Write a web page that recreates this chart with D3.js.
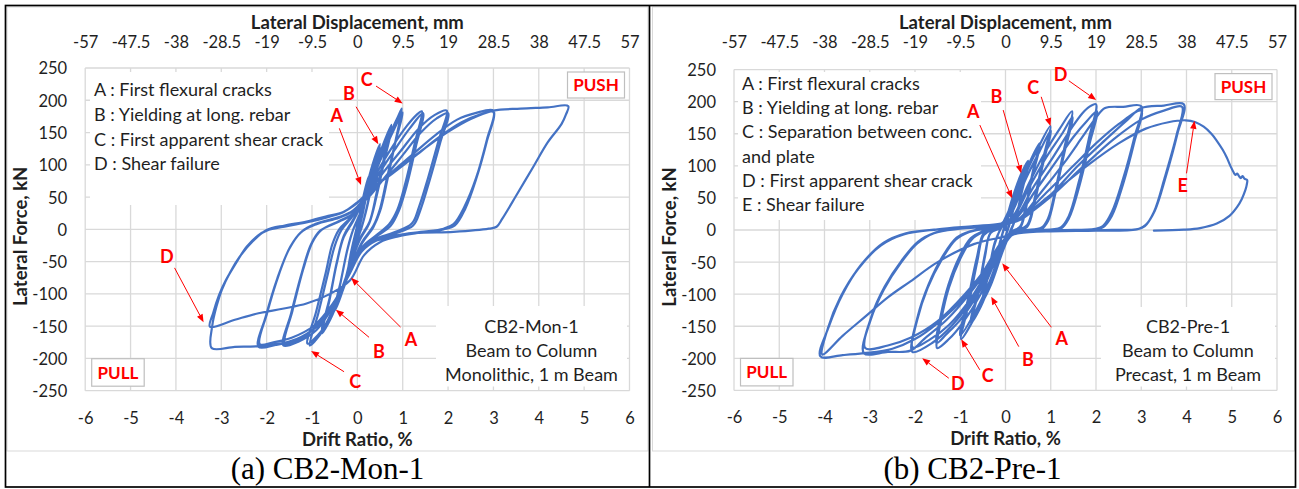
<!DOCTYPE html>
<html>
<head>
<meta charset="utf-8">
<title>CB2 beam-to-column hysteresis</title>
<script src="https://cdn.jsdelivr.net/npm/d3@7"></script>
<style>
  html, body { margin: 0; padding: 0; background: #fff; }
  svg { display: block; }
</style>
</head>
<body>
<svg id="fig" width="1299" height="489"></svg>
<script>
// ---------- axis ticks ----------
const driftTicks = [-6, -5, -4, -3, -2, -1, 0, 1, 2, 3, 4, 5, 6];
const displacementTicks = [-57, -47.5, -38, -28.5, -19, -9.5, 0, 9.5, 19, 28.5, 38, 47.5, 57];
const forceTicks = [-250, -200, -150, -100, -50, 0, 50, 100, 150, 200, 250];

// ---------- recorded loops: [drift ratio %, lateral force kN] ----------
const monLoop = [
  [0, 0],
  [0.1, 40], [0.25, 82], [0.17, 45], [0.05, 6], [-0.08, -30], [-0.22, -72], [-0.14, -38], [-0.03, -3],
  [0.1, 38], [0.25, 79], [0.17, 42], [0.05, 4], [-0.08, -28], [-0.22, -69], [-0.14, -36], [-0.03, -2],
  [0.1, 35], [0.3, 92], [0.5, 132], [0.38, 92], [0.22, 38], [0.1, 4], [-0.1, -36], [-0.3, -90], [-0.5, -126], [-0.38, -86], [-0.22, -32], [-0.1, -2],
  [0.1, 32], [0.3, 87], [0.5, 127], [0.37, 86], [0.21, 33], [0.09, 2], [-0.1, -32], [-0.3, -86], [-0.5, -121], [-0.37, -82], [-0.21, -28], [-0.09, 0],
  [0.1, 28], [0.35, 88], [0.55, 128], [0.75, 162], [0.6, 115], [0.42, 55], [0.27, 12], [0.05, -15], [-0.15, -52], [-0.4, -106], [-0.6, -140], [-0.78, -161], [-0.62, -112], [-0.46, -55], [-0.3, -12], [-0.1, 12],
  [0.1, 40], [0.4, 94], [0.6, 131], [0.76, 157], [0.6, 108], [0.42, 50], [0.26, 9], [0.05, -17], [-0.18, -60], [-0.45, -111], [-0.78, -156], [-0.61, -106], [-0.45, -50], [-0.3, -10], [-0.1, 14],
  [0.15, 47], [0.45, 102], [0.7, 146], [0.88, 172], [0.98, 187], [0.85, 140], [0.66, 82], [0.5, 32], [0.35, 5], [0.1, -20], [-0.15, -62], [-0.45, -117], [-0.75, -156], [-0.92, -172], [-1.05, -180], [-0.86, -130], [-0.66, -72], [-0.5, -26], [-0.35, -1], [-0.1, 21],
  [0.2, 56], [0.5, 106], [0.75, 146], [1.0, 181], [0.84, 135], [0.66, 76], [0.5, 28], [0.35, 3], [0.1, -22], [-0.2, -71], [-0.5, -121], [-0.8, -158], [-1.1, -177], [-0.91, -128], [-0.7, -68], [-0.55, -23], [-0.4, 0], [-0.15, 18],
  [0.15, 44], [0.45, 90], [0.8, 131], [1.1, 161], [1.3, 177], [1.42, 183], [1.26, 132], [1.06, 72], [0.88, 30], [0.7, 8], [0.4, -10], [0.1, -28], [-0.2, -70], [-0.55, -121], [-0.9, -156], [-1.3, -174], [-1.63, -180], [-1.46, -130], [-1.22, -66], [-1.02, -23], [-0.82, -2], [-0.4, 12], [-0.1, 23],
  [0.2, 50], [0.5, 89], [0.85, 126], [1.15, 156], [1.45, 180], [1.29, 128], [1.09, 68], [0.91, 28], [0.73, 5], [0.4, -12], [0.1, -30], [-0.2, -72], [-0.55, -119], [-0.95, -154], [-1.3, -171], [-1.6, -178], [-1.43, -126], [-1.19, -61], [-0.99, -20], [-0.79, -1], [-0.4, 13], [-0.1, 24],
  [0.2, 51], [0.55, 86], [0.95, 121], [1.35, 156], [1.7, 177], [1.97, 184], [1.8, 140], [1.56, 80], [1.36, 35], [1.2, 9], [0.8, -5], [0.4, -15], [0.1, -31], [-0.2, -71], [-0.5, -116], [-0.9, -151], [-1.4, -172], [-1.8, -179], [-2.18, -182], [-2.02, -135], [-1.76, -75], [-1.5, -30], [-1.25, -5], [-0.9, 8], [-0.4, 18], [-0.1, 28],
  [0.25, 50], [0.6, 80], [1.0, 115], [1.4, 150], [1.75, 172], [2.0, 180], [1.83, 135], [1.59, 75], [1.39, 30], [1.23, 6], [0.8, -7], [0.4, -17], [0.1, -33], [-0.2, -73], [-0.55, -116], [-0.95, -149], [-1.45, -168], [-1.85, -175], [-2.15, -178], [-1.99, -130], [-1.73, -70], [-1.48, -27], [-1.22, -3], [-0.9, 9], [-0.4, 19], [-0.1, 29],
  [0.25, 55], [0.7, 85], [1.2, 115], [1.7, 145], [2.2, 170], [2.6, 180], [3.0, 184], [2.86, 140], [2.62, 80], [2.36, 35], [2.12, 8], [1.9, 1], [1.4, -4], [0.9, -9], [0.4, -18], [0.1, -34], [-0.2, -73], [-0.55, -119], [-1.0, -156], [-1.5, -174], [-2.2, -181], [-2.7, -182], [-3.21, -184], [-3.2, -150], [-3.1, -118], [-2.99, -94], [-2.8, -66], [-2.59, -42], [-2.3, -18], [-2.0, -1], [-1.6, 6], [-1.12, 12], [-0.7, 20], [-0.31, 27],
  [0.0, 41], [0.3, 62], [0.8, 88], [1.3, 115], [1.8, 143], [2.3, 166], [2.7, 178], [3.0, 182], [2.85, 135], [2.62, 78], [2.38, 32], [2.15, 6], [1.9, 0], [1.4, -5], [0.9, -11], [0.5, -20], [0.15, -40], [-0.16, -79], [-0.6, -100], [-1.12, -115], [-1.65, -123], [-2.18, -130], [-2.7, -140], [-3.25, -151], [-3.18, -130], [-3.05, -102], [-2.9, -79], [-2.7, -55], [-2.44, -27], [-2.2, -10], [-2.0, -2], [-1.55, 5], [-1.1, 11], [-0.65, 19], [-0.3, 27],
  [0.0, 42], [0.35, 65], [0.8, 90], [1.4, 121], [2.0, 151], [2.5, 171], [3.0, 184], [3.6, 187], [4.2, 189], [4.65, 191], [4.6, 178], [4.5, 163], [4.2, 135], [3.88, 97], [3.5, 52], [3.2, 17], [3.07, 4], [2.9, 1], [2.12, -4], [1.27, -6], [0.6, -14], [0.2, -22]
];

const preLoop = [
  [0, 0],
  [0.12, 35], [0.25, 62], [0.16, 30], [0.06, 3], [-0.08, -25], [-0.25, -60], [-0.15, -28], [-0.05, -2],
  [0.11, 32], [0.25, 58], [0.16, 28], [0.06, 2], [-0.08, -24], [-0.25, -56], [-0.15, -26], [-0.05, -1],
  [0.15, 49], [0.35, 88], [0.5, 108], [0.38, 68], [0.24, 22], [0.14, 2], [-0.07, -35], [-0.32, -85], [-0.5, -110], [-0.38, -70], [-0.25, -25], [-0.13, -1],
  [0.12, 38], [0.33, 80], [0.5, 102], [0.37, 62], [0.23, 18], [0.12, 1], [-0.06, -30], [-0.3, -80], [-0.5, -104], [-0.37, -64], [-0.24, -20], [-0.12, 0],
  [0.1, 25], [0.35, 75], [0.55, 108], [0.75, 135], [0.6, 90], [0.44, 35], [0.32, 5], [0.1, -4], [-0.1, -30], [-0.35, -85], [-0.55, -120], [-0.76, -145], [-0.6, -98], [-0.45, -40], [-0.33, -5], [-0.1, 4],
  [0.12, 28], [0.38, 78], [0.58, 110], [0.76, 131], [0.6, 86], [0.44, 30], [0.32, 3], [0.1, -5], [-0.1, -32], [-0.38, -88], [-0.58, -120], [-0.77, -141], [-0.6, -94], [-0.45, -36], [-0.33, -4], [-0.1, 5],
  [0.15, 32], [0.4, 80], [0.7, 125], [0.99, 162], [0.82, 108], [0.64, 48], [0.48, 8], [0.2, -3], [-0.05, -25], [-0.3, -75], [-0.6, -125], [-0.98, -170], [-0.8, -112], [-0.62, -48], [-0.48, -8], [-0.2, 4],
  [0.12, 25], [0.45, 80], [0.75, 122], [1.0, 155], [0.82, 100], [0.64, 42], [0.48, 5], [0.2, -4], [-0.05, -26], [-0.35, -80], [-0.65, -125], [-1.0, -164], [-0.82, -105], [-0.63, -42], [-0.48, -5], [-0.2, 5],
  [0.15, 20], [0.5, 70], [0.85, 118], [1.2, 158], [1.47, 185], [1.3, 128], [1.1, 62], [0.94, 18], [0.8, 4], [0.4, -1], [0.1, -8], [-0.2, -45], [-0.55, -100], [-0.95, -145], [-1.25, -170], [-1.51, -184], [-1.42, -140], [-1.25, -90], [-1.0, -45], [-0.75, -15], [-0.5, -3], [-0.2, 5],
  [0.15, 18], [0.52, 66], [0.9, 113], [1.25, 150], [1.48, 176], [1.3, 120], [1.1, 56], [0.94, 14], [0.8, 2], [0.4, -2], [0.1, -9], [-0.2, -42], [-0.58, -96], [-1.0, -140], [-1.3, -162], [-1.52, -176], [-1.43, -133], [-1.26, -85], [-1.02, -42], [-0.77, -13], [-0.5, -2], [-0.2, 5],
  [0.2, 18], [0.6, 65], [1.0, 108], [1.47, 160], [1.7, 182], [1.85, 192], [2.0, 196], [1.85, 145], [1.62, 75], [1.4, 22], [1.22, 4], [0.7, 0], [0.3, -2], [0.05, -12], [-0.25, -50], [-0.7, -105], [-1.2, -150], [-1.6, -175], [-2.06, -190], [-1.95, -140], [-1.72, -90], [-1.4, -45], [-1.1, -15], [-0.8, -3], [-0.3, 4],
  [0.2, 16], [0.65, 60], [1.1, 105], [1.5, 145], [1.8, 170], [2.02, 185], [1.86, 135], [1.63, 68], [1.4, 18], [1.22, 2], [0.7, -1], [0.3, -3], [0.05, -13], [-0.3, -52], [-0.75, -105], [-1.25, -148], [-1.7, -172], [-2.05, -183], [-1.94, -135], [-1.7, -85], [-1.38, -40], [-1.08, -12], [-0.78, -2], [-0.3, 5],
  [0.25, 15], [0.8, 60], [1.3, 105], [1.7, 145], [2.0, 175], [2.2, 190], [2.6, 192], [3.0, 193], [2.85, 145], [2.6, 80], [2.35, 28], [2.15, 6], [1.98, 2], [1.3, 0], [0.6, -1], [0.2, -5], [0.0, -15], [-0.3, -50], [-0.8, -100], [-1.3, -140], [-1.8, -170], [-2.1, -188], [-2.6, -190], [-3.13, -192], [-2.98, -140], [-2.69, -93], [-2.32, -52], [-1.95, -21], [-1.58, -5], [-1.0, 2], [-0.3, 6],
  [0.25, 15], [0.9, 58], [1.5, 100], [2.0, 135], [2.5, 165], [3.0, 186], [2.85, 138], [2.6, 72], [2.35, 22], [2.15, 4], [1.98, 1], [1.3, -1], [0.6, -2], [0.2, -6], [0.0, -15], [-0.35, -52], [-0.9, -100], [-1.5, -142], [-2.1, -168], [-2.6, -180], [-3.1, -184], [-2.96, -134], [-2.67, -88], [-2.3, -48], [-1.93, -18], [-1.55, -4], [-1.0, 3], [-0.3, 7],
  [0.3, 15], [1.0, 55], [1.6, 100], [2.2, 140], [2.7, 172], [3.0, 190], [3.5, 194], [3.94, 196], [3.8, 150], [3.55, 85], [3.3, 30], [3.1, 8], [2.95, 2], [2.2, 0], [1.4, -1], [0.6, -2], [0.1, -8], [-0.1, -20], [-0.45, -60], [-0.9, -105], [-1.5, -145], [-2.0, -170], [-2.5, -185], [-3.13, -192], [-3.6, -195], [-4.09, -197], [-3.9, -150], [-3.6, -100], [-3.2, -55], [-2.7, -20], [-2.2, -5], [-1.5, 1], [-0.7, 5], [-0.1, 9],
  [0.3, 16], [1.0, 52], [1.7, 98], [2.4, 142], [3.0, 172], [3.5, 186], [3.9, 192], [3.78, 148], [3.52, 82], [3.28, 28], [3.08, 6], [2.9, 1], [2.0, -1], [1.0, -2], [0.3, -5], [0.0, -10], [-0.7, -22], [-1.5, -50], [-2.1, -80], [-2.6, -105], [-3.1, -135], [-3.6, -165], [-4.05, -194], [-3.92, -152], [-3.65, -105], [-3.25, -60], [-2.75, -24], [-2.25, -7], [-1.5, 1], [-0.7, 6], [-0.1, 10],
  [0.3, 18], [1.0, 55], [1.8, 100], [2.5, 135], [3.1, 158], [3.6, 168], [3.98, 171], [4.2, 168], [4.38, 161], [4.55, 150], [4.67, 139], [4.8, 125], [4.89, 113], [4.97, 100], [5.04, 90], [5.08, 86], [5.12, 88], [5.16, 84], [5.2, 81], [5.24, 84], [5.28, 80], [5.34, 78], [5.33, 70], [5.3, 62], [5.22, 48], [5.12, 36], [4.95, 22], [4.67, 10], [4.3, 3], [3.94, 0.5], [3.28, -1]
];

// ---------- text content ----------
const monLegend = ["A : First flexural cracks", "B : Yielding at long. rebar", "C : First apparent shear crack", "D : Shear failure"];
const preLegend = ["A : First flexural cracks", "B : Yielding at long. rebar", "C : Separation between conc.", "and plate", "D : First apparent shear crack", "E : Shear failure"];
const monSpecimen = ["CB2-Mon-1", "Beam to Column", "Monolithic, 1 m Beam"];
const preSpecimen = ["CB2-Pre-1", "Beam to Column", "Precast, 1 m Beam"];

// event markers in data units (drift %, kN): letter centre, arrow tail, arrow tip
const monEvents = [
  { label: "A", at: [-0.454, 177], tail: [-0.397, 156.5], tip: [0.082, 68.6] },
  { label: "B", at: [-0.183, 210.7], tail: [-0.029, 190], tip: [0.463, 131.7] },
  { label: "C", at: [0.207, 232.4], tail: [0.412, 222], tip: [1.0, 195] },
  { label: "D", at: [-4.2, -41.8], tail: [-4.03, -59.7], tip: [-3.39, -143.9] },
  { label: "A", at: [1.184, -170.3], tail: [0.952, -151.4], tip: [-0.139, -75.1] },
  { label: "B", at: [0.474, -188.6], tail: [0.258, -167.3], tip: [-0.474, -124.4] },
  { label: "C", at: [-0.046, -236], tail: [-0.293, -220.6], tip: [-1.02, -188.6] }
];
const preEvents = [
  { label: "A", at: [-0.714, 184.3], tail: [-0.568, 163.6], tip: [0.148, 49.4] },
  { label: "B", at: [-0.199, 208.7], tail: [-0.051, 186.9], tip: [0.347, 88.3] },
  { label: "C", at: [0.612, 222.3], tail: [0.789, 207.6], tip: [0.994, 162] },
  { label: "D", at: [1.215, 243], tail: [1.399, 232.6], tip: [2.004, 202.5] },
  { label: "E", at: [3.918, 70.1], tail: [4.0, 88.3], tip: [4.177, 170.2] },
  { label: "A", at: [1.244, -168.7], tail: [1.014, -151.6], tip: [-0.073, -51.9] },
  { label: "B", at: [0.493, -202.5], tail: [0.294, -181.8], tip: [-0.316, -103.9] },
  { label: "C", at: [-0.393, -226.6], tail: [-0.568, -218], tip: [-0.979, -170.2] },
  { label: "D", at: [-1.052, -238.8], tail: [-1.253, -231], tip: [-1.841, -199.8] }
];

// ---------- styling ----------
const SANS = "Lato, 'Open Sans', sans-serif";
const SERIF = "'Liberation Serif', 'Times New Roman', serif";
const INK = "#1f1f1f";
const GRID = "#d9d9d9";
const LOOP = "#4472c4";
const RED = "#ff0000";

const svg = d3.select("#fig");
svg.append("rect").attr("width", 1299).attr("height", 489).attr("fill", "#fff");

function drawPanel(cfg) {
  const g = svg.append("g");

  // chart area
  g.append("rect")
    .attr("x", cfg.frame[0]).attr("y", cfg.frame[1])
    .attr("width", cfg.frame[2] - cfg.frame[0]).attr("height", cfg.frame[3] - cfg.frame[1])
    .attr("fill", "#fff").attr("stroke", GRID).attr("stroke-width", 1);

  const x = d3.scaleLinear().domain([-6, 6]).range([cfg.x0, cfg.x1]);
  const xTop = d3.scaleLinear().domain([-57, 57]).range([cfg.x0, cfg.x1]);
  const y = d3.scaleLinear().domain([-250, 250]).range([cfg.yBot, cfg.yTop]);

  // grid
  g.append("g").selectAll("line").data(driftTicks).join("line")
    .attr("x1", d => x(d)).attr("x2", d => x(d))
    .attr("y1", cfg.yTop).attr("y2", cfg.yBot)
    .attr("stroke", GRID).attr("stroke-width", 1.3);
  g.append("g").selectAll("line").data(forceTicks).join("line")
    .attr("x1", cfg.x0).attr("x2", cfg.x1)
    .attr("y1", d => y(d)).attr("y2", d => y(d))
    .attr("stroke", GRID).attr("stroke-width", 1.3);

  // tick labels
  const styleAxis = sel => {
    sel.select(".domain").remove();
    sel.selectAll(".tick line").remove();
    sel.selectAll("text").attr("font-family", SANS).attr("font-size", 16.5).attr("fill", INK);
  };
  g.append("g").attr("transform", `translate(0,${cfg.yBot + 33})`)
    .call(d3.axisBottom(x).tickValues(driftTicks).tickSize(0).tickFormat(d => String(d)))
    .call(styleAxis)
    .call(s => s.selectAll("text").attr("y", 0).attr("dy", 0));
  g.append("g").attr("transform", `translate(0,${cfg.titleTopY + 19})`)
    .call(d3.axisTop(xTop).tickValues(displacementTicks).tickSize(0).tickFormat(d => String(d)))
    .call(styleAxis)
    .call(s => s.selectAll("text").attr("y", 0).attr("dy", 0));
  g.append("g").attr("transform", `translate(${cfg.x0 - 18},0)`)
    .call(d3.axisLeft(y).tickValues(forceTicks).tickSize(0).tickFormat(d => String(d)))
    .call(styleAxis)
    .call(s => s.selectAll("text").attr("x", 0).attr("dy", "0.36em"));

  // axis titles
  const mid = (cfg.x0 + cfg.x1) / 2;
  const title = (t) => g.append("text").text(t)
    .attr("font-family", SANS).attr("font-weight", 700).attr("font-size", 18.5)
    .attr("fill", INK).attr("text-anchor", "middle");
  title("Lateral Displacement, mm").attr("x", mid).attr("y", cfg.titleTopY);
  title("Drift Ratio, %").attr("x", mid).attr("y", cfg.yBot + 55);
  title("Lateral Force, kN")
    .attr("transform", `translate(${cfg.x0 - 58},${(cfg.yTop + cfg.yBot) / 2 + 7}) rotate(-90)`);

  // hysteresis loop
  const line = d3.line().x(d => x(d[0])).y(d => y(d[1])).curve(d3.curveCatmullRom.alpha(0.5));
  g.append("path").datum(cfg.loop).attr("d", line)
    .attr("fill", "none").attr("stroke", LOOP).attr("stroke-width", 2.2)
    .attr("stroke-linejoin", "round").attr("stroke-linecap", "round");

  // legend of events
  const lb = cfg.legendBox;
  g.append("rect").attr("x", lb[0]).attr("y", lb[1]).attr("width", lb[2] - lb[0]).attr("height", lb[3] - lb[1]).attr("fill", "#fff");
  g.append("g").selectAll("text").data(cfg.legend).join("text")
    .text(d => d)
    .attr("x", lb[0] + 4).attr("y", (d, i) => cfg.legendY0 + i * cfg.legendStep)
    .attr("dy", "0.35em")
    .attr("font-family", SANS).attr("font-size", 18).attr("fill", INK);

  // specimen description
  const sb = cfg.specimenBox;
  g.append("rect").attr("x", sb[0]).attr("y", sb[1]).attr("width", sb[2] - sb[0]).attr("height", sb[3] - sb[1]).attr("fill", "#fff");
  g.append("g").selectAll("text").data(cfg.specimen).join("text")
    .text(d => d)
    .attr("x", (sb[0] + sb[2]) / 2).attr("y", (d, i) => 327 + i * 24)
    .attr("dy", "0.35em").attr("text-anchor", "middle")
    .attr("font-family", SANS).attr("font-size", 18).attr("fill", INK);

  // loading direction tags
  const tag = (t, bx) => {
    g.append("rect").attr("x", bx[0]).attr("y", bx[1]).attr("width", bx[2] - bx[0]).attr("height", bx[3] - bx[1])
      .attr("fill", "#fff").attr("stroke", "#bfbfbf").attr("stroke-width", 1.2);
    g.append("text").text(t).attr("x", (bx[0] + bx[2]) / 2).attr("y", (bx[1] + bx[3]) / 2)
      .attr("dy", "0.36em").attr("text-anchor", "middle")
      .attr("font-family", SANS).attr("font-weight", 700).attr("font-size", 17).attr("fill", RED);
  };
  tag("PUSH", [cfg.x1 - 62, cfg.yTop + 4, cfg.x1 - 5, cfg.yTop + 30]);
  tag("PULL", [cfg.x0 + 6.5, cfg.yBot - 32, cfg.x0 + 59, cfg.yBot - 4.5]);

  // event arrows
  const ev = g.append("g");
  cfg.events.forEach(e => {
    const tx = x(e.tail[0]), ty = y(e.tail[1]);
    const hx = x(e.tip[0]), hy = y(e.tip[1]);
    const ang = Math.atan2(hy - ty, hx - tx);
    const L = 8, W = 3.2;
    const bx = hx - L * Math.cos(ang), by = hy - L * Math.sin(ang);
    ev.append("line").attr("x1", tx).attr("y1", ty).attr("x2", bx).attr("y2", by)
      .attr("stroke", RED).attr("stroke-width", 1);
    ev.append("path")
      .attr("d", `M${hx},${hy}L${bx + W * Math.sin(ang)},${by - W * Math.cos(ang)}L${bx - W * Math.sin(ang)},${by + W * Math.cos(ang)}Z`)
      .attr("fill", RED);
    ev.append("text").text(e.label).attr("x", x(e.at[0])).attr("y", y(e.at[1]))
      .attr("dy", "0.36em").attr("text-anchor", "middle")
      .attr("font-family", SANS).attr("font-weight", 700).attr("font-size", 18).attr("fill", RED);
  });

  // caption
  g.append("text").text(cfg.caption).attr("x", cfg.captionX).attr("y", 479)
    .attr("text-anchor", "middle").attr("font-family", SERIF).attr("font-size", 31).attr("fill", "#000");
}

drawPanel({
  frame: [7, 7, 648, 451], x0: 85.2, x1: 629.5, yTop: 68, yBot: 390.7, titleTopY: 29,
  loop: monLoop, legend: monLegend, legendBox: [90, 72, 329, 205], legendY0: 90, legendStep: 24.7,
  specimen: monSpecimen, specimenBox: [436, 306, 627, 386.5], events: monEvents,
  caption: "(a) CB2-Mon-1", captionX: 327.5
});
drawPanel({
  frame: [652.5, 7, 1294.5, 451], x0: 734, x1: 1277, yTop: 69.6, yBot: 390.4, titleTopY: 29,
  loop: preLoop, legend: preLegend, legendBox: [738, 72, 981, 220], legendY0: 83.3, legendStep: 24.35,
  specimen: preSpecimen, specimenBox: [1101, 307, 1275, 386.5], events: preEvents,
  caption: "(b) CB2-Pre-1", captionX: 972.5
});

// table rules around the two figures
svg.append("rect").attr("x", 5.5).attr("y", 5.5).attr("width", 1290).attr("height", 481.5)
  .attr("fill", "none").attr("stroke", "#000").attr("stroke-width", 1.7);
svg.append("line").attr("x1", 649.5).attr("x2", 649.5).attr("y1", 5.5).attr("y2", 487)
  .attr("stroke", "#000").attr("stroke-width", 1.7);
</script>
</body>
</html>
